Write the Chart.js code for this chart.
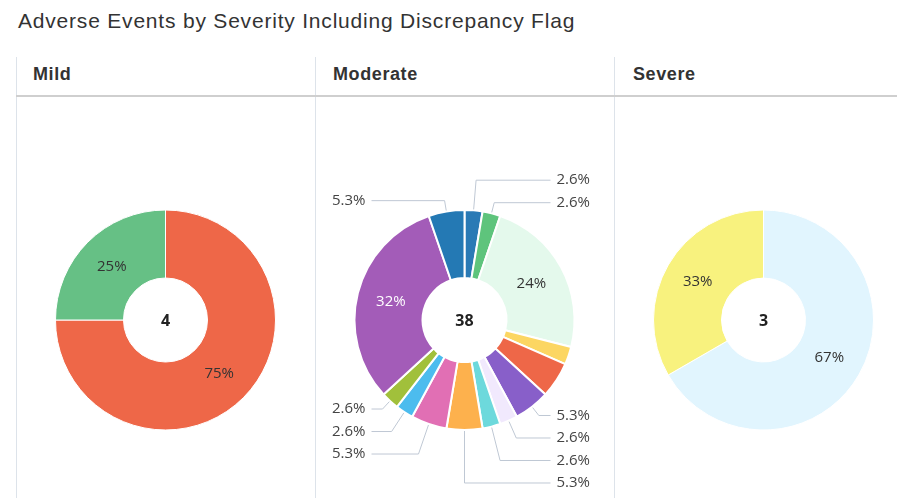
<!DOCTYPE html>
<html>
<head>
<meta charset="utf-8">
<title>Adverse Events by Severity</title>
<script src="https://cdn.jsdelivr.net/npm/chart.js@4.4.1/dist/chart.umd.min.js"></script>
<style>
    body {
        margin: 0;
        width: 897px;
        height: 498px;
        overflow: hidden;
        background: #fff;
        position: relative;
        font-family: 'Liberation Sans', Arial, sans-serif;
        color: #333;
    }
    #title {
        position: absolute;
        left: 18px;
        top: 9px;
        font-size: 21px;
        letter-spacing: 0.8px;
        white-space: nowrap;
    }
    .rule-v {
        position: absolute;
        top: 57px;
        bottom: 0;
        width: 0;
        border-left: 1px solid #dde3ea;
    }
    #rule-h {
        position: absolute;
        left: 16px;
        top: 95px;
        width: 881px;
        border-top: 2px solid #cfcfcf;
    }
    .col-head {
        position: absolute;
        top: 64px;
        font-size: 18px;
        letter-spacing: 0.6px;
        font-weight: bold;
        color: #333;
    }
    canvas {
        position: absolute;
        top: 140px;
    }
</style>
</head>
<body>
<div id="title">Adverse Events by Severity Including Discrepancy Flag</div>
<div class="rule-v" style="left:16px"></div>
<div class="rule-v" style="left:315px"></div>
<div class="rule-v" style="left:614px"></div>
<div id="rule-h"></div>
<div class="col-head" style="left:33px">Mild</div>
<div class="col-head" style="left:333px">Moderate</div>
<div class="col-head" style="left:633px">Severe</div>
<canvas id="chart-mild" width="299" height="360" style="left:16px"></canvas>
<canvas id="chart-moderate" width="299" height="360" style="left:315px"></canvas>
<canvas id="chart-severe" width="299" height="360" style="left:614px"></canvas>

<script>
// Data
const mildLabels = ['Event A', 'Event B'];
const mildValues = [3, 1];
const mildColors = ['#EE6748', '#66C085'];

const moderateLabels = [
    'Event 1', 'Event 2', 'Event 3', 'Event 4', 'Event 5', 'Event 6', 'Event 7',
    'Event 8', 'Event 9', 'Event 10', 'Event 11', 'Event 12', 'Event 13', 'Event 14'
];
const moderateValues = [1, 1, 9, 1, 2, 2, 1, 1, 2, 2, 1, 1, 12, 2];
const moderateColors = [
    '#2A7AB5', '#5EC47C', '#E4F9EC', '#FCD662', '#EE6748', '#885FC9', '#F1E9FD',
    '#6DD9DC', '#FDB14D', '#E16FB4', '#4CBCEE', '#A1C03B', '#A35CB8', '#2479B4'
];
// slices whose outside label is not shown in the original
const moderateNoLabel = [3, 4];

const severeLabels = ['Event X', 'Event Y'];
const severeValues = [2, 1];
const severeColors = ['#E1F5FE', '#F8F27E'];

// Constants
const OUTER_RADIUS = 110;
const CUTOUT = (42 / 110 * 100) + '%';
const INSIDE_MIN_PCT = 10;
const LABEL_FONT = "15px 'Open Sans', 'DejaVu Sans', sans-serif";
const CENTER_FONT = "bold 16px 'Open Sans', 'DejaVu Sans', sans-serif";
const LINE_COLOR = '#bfc8d4';
const LABEL_STEP = 22.5;

function formatPct(pct) {
    return pct < 10 ? pct.toFixed(1) + '%' : Math.round(pct) + '%';
}

function isDark(hex) {
    const r = parseInt(hex.substr(1, 2), 16);
    const g = parseInt(hex.substr(3, 2), 16);
    const b = parseInt(hex.substr(5, 2), 16);
    return 0.299 * r + 0.587 * g + 0.114 * b < 130;
}

// draws percentages, leader lines and the total in the hole
const donutLabels = {
    id: 'donutLabels',
    afterDatasetsDraw(chart, args, opts) {
        const ctx = chart.ctx;
        const meta = chart.getDatasetMeta(0);
        const values = chart.data.datasets[0].data;
        const colors = chart.data.datasets[0].backgroundColor;
        const total = values.reduce((a, b) => a + b, 0);
        const hidden = opts.hidden || [];
        const groups = { rt: [], rb: [], lt: [], lb: [] };
        let cx = 0, cy = 0;

        ctx.save();
        ctx.font = LABEL_FONT;
        ctx.textBaseline = 'middle';

        meta.data.forEach((arc, i) => {
            const p = arc.getProps(['x', 'y', 'startAngle', 'endAngle', 'innerRadius', 'outerRadius'], true);
            cx = p.x; cy = p.y;
            const pct = values[i] / total * 100;
            const mid = (p.startAngle + p.endAngle) / 2;
            const dx = Math.cos(mid), dy = Math.sin(mid);

            if (pct >= INSIDE_MIN_PCT) {
                const r = (p.innerRadius + p.outerRadius) / 2;
                ctx.fillStyle = isDark(colors[i]) ? '#fff' : '#333';
                ctx.textAlign = 'center';
                ctx.fillText(formatPct(pct), p.x + dx * r, p.y + dy * r);
                return;
            }
            if (hidden.includes(i)) return;

            const item = {
                text: formatPct(pct),
                dx, dy,
                ex: p.x + dx * (p.outerRadius + 1),
                ey: p.y + dy * (p.outerRadius + 1),
                y: p.y + dy * (p.outerRadius + 11)
            };
            const key = (dx > -0.01 ? 'r' : 'l') + (dy < 0 ? 't' : 'b');
            groups[key].push(item);
        });

        // push labels away from the horizontal so they do not overlap
        ['rt', 'lt'].forEach(k => {
            const g = groups[k].sort((a, b) => b.y - a.y);
            for (let j = 1; j < g.length; j++) {
                g[j].y = Math.min(g[j].y, g[j - 1].y - LABEL_STEP);
            }
        });
        ['rb', 'lb'].forEach(k => {
            const g = groups[k].sort((a, b) => a.y - b.y);
            for (let j = 1; j < g.length; j++) {
                g[j].y = Math.max(g[j].y, g[j - 1].y + LABEL_STEP);
            }
        });

        ctx.strokeStyle = LINE_COLOR;
        ctx.lineWidth = 1;
        Object.keys(groups).forEach(k => {
            const right = k[0] === 'r';
            const endX = right ? cx + opts.rightEdge : cx - opts.leftEdge;
            groups[k].forEach(it => {
                const t = (it.y - it.ey) / it.dy;
                const bx = it.ex + it.dx * t;
                ctx.beginPath();
                ctx.moveTo(it.ex, it.ey);
                ctx.lineTo(bx, it.y);
                ctx.lineTo(endX, it.y);
                ctx.stroke();
                ctx.fillStyle = '#444';
                ctx.textAlign = right ? 'left' : 'right';
                ctx.fillText(it.text, right ? endX + 6 : endX - 6, it.y);
            });
        });

        ctx.font = CENTER_FONT;
        ctx.fillStyle = '#222';
        ctx.textAlign = 'center';
        ctx.fillText(String(total), cx, cy + 1);
        ctx.restore();
    }
};

function makeDonut(canvasId, labels, values, colors, borderWidth, labelOpts) {
    const ctx = document.getElementById(canvasId);
    return new Chart(ctx, {
        type: 'doughnut',
        data: {
            labels: labels,
            datasets: [{
                data: values,
                backgroundColor: colors,
                borderColor: '#fff',
                borderWidth: borderWidth
            }]
        },
        options: {
            responsive: false,
            animation: false,
            radius: OUTER_RADIUS,
            cutout: CUTOUT,
            layout: { padding: 0 },
            plugins: {
                legend: { display: false },
                tooltip: { enabled: false },
                donutLabels: labelOpts
            }
        },
        plugins: [donutLabels]
    });
}

function drawCharts() {
    makeDonut('chart-mild', mildLabels, mildValues, mildColors, 1, {});
    makeDonut('chart-moderate', moderateLabels, moderateValues, moderateColors, 2, {
        hidden: moderateNoLabel,
        rightEdge: 86,
        leftEdge: 93
    });
    makeDonut('chart-severe', severeLabels, severeValues, severeColors, 1, {});
}

document.addEventListener('DOMContentLoaded', drawCharts);
</script>
</body>
</html>
